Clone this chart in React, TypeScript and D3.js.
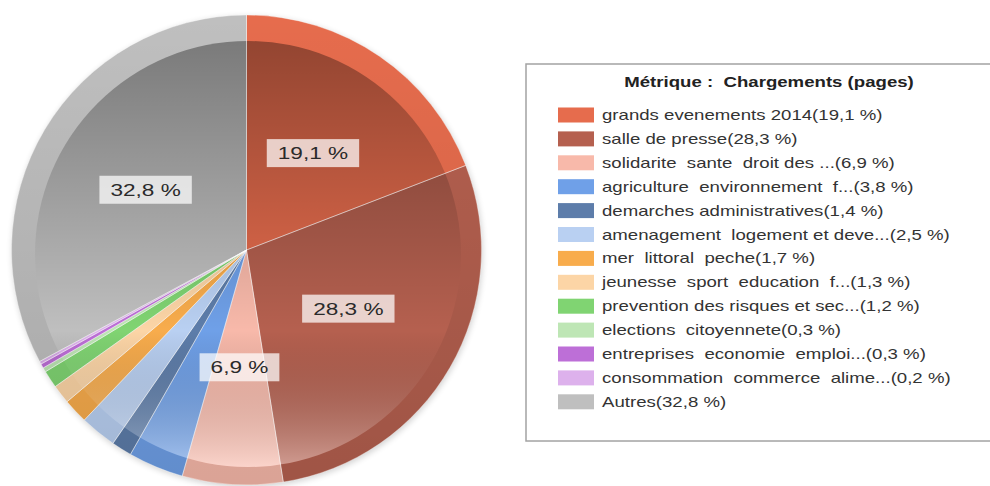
import React from "react";
import * as d3 from "d3";

const categories = [
  "grands evenements 2014",
  "salle de presse",
  "solidarite  sante  droit des ...",
  "agriculture  environnement  f...",
  "demarches administratives",
  "amenagement  logement et deve...",
  "mer  littoral  peche",
  "jeunesse  sport  education  f...",
  "prevention des risques et sec...",
  "elections  citoyennete",
  "entreprises  economie  emploi...",
  "consommation  commerce  alime...",
  "Autres",
];
const values = [19.1, 28.3, 6.9, 3.8, 1.4, 2.5, 1.7, 1.3, 1.2, 0.3, 0.3, 0.2, 32.8];
const colors = [
  "#E66C4D", "#B5604F", "#F8B9AA", "#6FA0E8", "#5D7DAA", "#B9D0F2", "#F8AC4C",
  "#FCD5A6", "#80D472", "#BEE6B5", "#BD6FD7", "#DDB1EC", "#BFBFBF",
];
const title = "Métrique :  Chargements (pages)";

const W = 990, H = 486;
const cx = 246.5, cy = 250, R = 235;
const icx = 248, icy = 254, ir = 213;
const SX = 1.33;

const fmt = (v: number) => v.toFixed(1).replace(".", ",");
const cw: Record<string, number> = { ",": 0.278, " ": 0.278, "%": 0.889 };
const textW = (s: string, fs: number) =>
  s.split("").reduce((a, c) => a + (cw[c] ?? 0.556), 0) * fs;

export default function App() {
  const pie = d3.pie<number>().sort(null).value((d) => d);
  const arcs = pie(values);
  const arc = d3.arc<d3.PieArcDatum<number>>().innerRadius(0).outerRadius(R);
  const rowY = d3.scaleLinear().domain([0, 1]).range([115, 138.9]);
  const labelFs = 17;

  return (
    <svg width={W} height={H} style={{ position: "absolute", left: 0, top: 0, fontFamily: "'Liberation Sans', Arial, sans-serif" }}>
      <defs>
        <filter id="sh" x="-10%" y="-10%" width="120%" height="120%">
          <feGaussianBlur stdDeviation="3" />
        </filter>
        <linearGradient id="innerShade" gradientUnits="userSpaceOnUse" x1="0" y1={icy - ir} x2="0" y2={icy + ir}>
          <stop offset="0" stopColor="#000" stopOpacity="0.36" />
          <stop offset="0.5" stopColor="#000" stopOpacity="0.1" />
          <stop offset="0.68" stopColor="#000" stopOpacity="0" />
          <stop offset="1" stopColor="#fff" stopOpacity="0.38" />
        </linearGradient>
        <linearGradient id="rimShade" gradientUnits="userSpaceOnUse" x1="0" y1={cy - R} x2="0" y2={cy + R}>
          <stop offset="0" stopColor="#000" stopOpacity="0" />
          <stop offset="1" stopColor="#000" stopOpacity="0.12" />
        </linearGradient>
      </defs>
      <circle cx={cx + 1} cy={cy + 2} r={R} fill="#000" opacity={0.18} filter="url(#sh)" />
      <g transform={`translate(${cx},${cy})`}>
        {arcs.map((a, i) => (
          <path key={i} d={arc(a) || ""} fill={colors[i]} />
        ))}
      </g>
      <path
        d={`M${cx - R},${cy}a${R},${R} 0 1,0 ${2 * R},0a${R},${R} 0 1,0 ${-2 * R},0Z M${icx - ir},${icy}a${ir},${ir} 0 1,0 ${2 * ir},0a${ir},${ir} 0 1,0 ${-2 * ir},0Z`}
        fill="url(#rimShade)"
        fillRule="evenodd"
      />
      <circle cx={icx} cy={icy} r={ir} fill="url(#innerShade)" />
      <g transform={`translate(${cx},${cy})`}>
        {arcs.map((a, i) => (
          <path key={i} d={arc(a) || ""} fill="none" stroke="#fff" strokeOpacity={0.35} strokeWidth={1} />
        ))}
        {arcs.map((a, i) => {
          if (a.data < 5) return null;
          const [x, y] = arc.centroid(a);
          const t = fmt(a.data) + " %";
          const bw = textW(t, labelFs) * SX + 22;
          return (
            <g key={"l" + i} transform={`translate(${x},${y})`}>
              <rect x={-bw / 2} y={-14} width={bw} height={28} fill="#fff" fillOpacity={0.72} />
              <text transform={`scale(${SX},1)`} textAnchor="middle" y={6} fontSize={labelFs} fill="#2a2a2a">
                {t}
              </text>
            </g>
          );
        })}
      </g>
      <rect x={526} y={64} width={480} height={377} fill="#fff" stroke="#a3a3a3" strokeWidth={1.5} />
      <text transform={`translate(769,87) scale(${SX},1)`} textAnchor="middle" fontSize={14} fontWeight="bold" fill="#222" style={{ whiteSpace: "pre" }}>
        {title}
      </text>
      {categories.map((c, i) => {
        const y = rowY(i);
        return (
          <g key={"lg" + i}>
            <rect x={558} y={y - 7.5} width={36} height={15} fill={colors[i]} />
            <text transform={`translate(602,${y + 5}) scale(${SX},1)`} fontSize={14} fill="#333" style={{ whiteSpace: "pre" }}>
              {`${c}(${fmt(values[i])} %)`}
            </text>
          </g>
        );
      })}
    </svg>
  );
}
